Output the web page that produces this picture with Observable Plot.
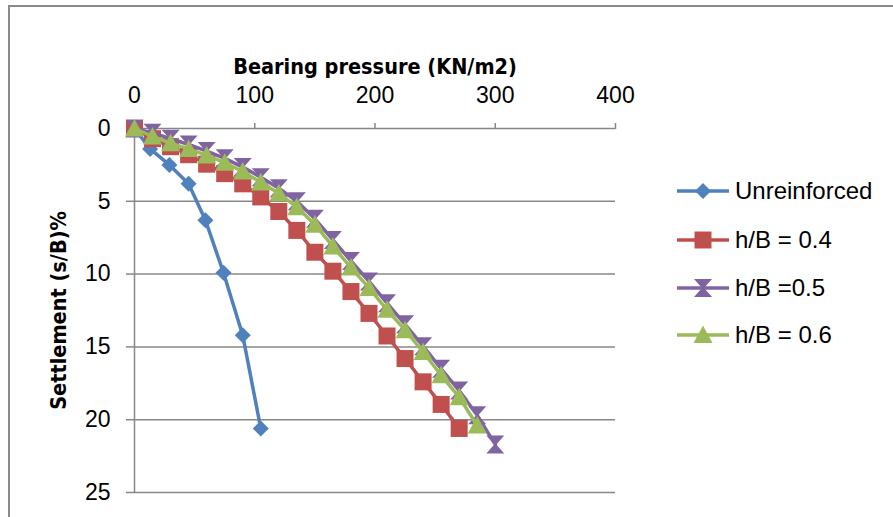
<!DOCTYPE html>
<html><head><meta charset="utf-8">
<script src="https://cdn.jsdelivr.net/npm/d3@7"></script>
<script src="https://cdn.jsdelivr.net/npm/@observablehq/plot@0.6"></script>
<style>
body{margin:0;background:#fff;}
#wrap{position:relative;width:893px;height:517px;overflow:hidden;font-family:"Liberation Sans",Arial,sans-serif;}
#frame{position:absolute;left:8px;top:5px;width:1000px;height:1000px;border-left:2px solid #8a8a8a;border-top:2px solid #8a8a8a;}
#chart{position:absolute;left:0;top:0;}
#legend{position:absolute;left:677px;top:0;}
.item{position:absolute;left:0;height:30px;display:flex;align-items:center;white-space:nowrap;font-size:24px;color:#000;}
.item svg{margin-right:6px;}
</style></head>
<body><div id="wrap"><div id="frame"></div><div id="chart"></div><div id="legend"></div></div>
<script>
// ---- data ----
const xTitle = "Bearing pressure (KN/m2)";
const yTitle = "Settlement (s/B)%";
const xTicks = [0, 100, 200, 300, 400];
const yTicks = [0, 5, 10, 15, 20, 25];
const seriesNames = ["Unreinforced", "h/B = 0.4", "h/B =0.5", "h/B = 0.6"];
const seriesColors = ["#4F81BD", "#C0504D", "#8064A2", "#9BBB59"];

const unreinforcedX = [0, 13, 29, 45, 59, 74, 90, 105];
const unreinforcedY = [0, 1.4, 2.5, 3.8, 6.3, 9.9, 14.2, 20.6];

const hB04X = [0, 15, 30, 45, 60, 75, 90, 105, 120, 135, 150, 165, 180, 195, 210, 225, 240, 255, 270];
const hB04Y = [0, 0.7, 1.25, 1.8, 2.45, 3.1, 3.8, 4.7, 5.7, 7.0, 8.5, 9.8, 11.2, 12.7, 14.25, 15.8, 17.4, 18.95, 20.6];

const hB05X = [0, 15, 30, 45, 60, 75, 90, 105, 120, 135, 150, 165, 180, 195, 210, 225, 240, 255, 270, 285, 300];
const hB05Y = [0, 0.3, 0.7, 1.1, 1.55, 2.05, 2.65, 3.35, 4.1, 5.0, 6.2, 7.65, 9.1, 10.5, 12.0, 13.45, 14.95, 16.5, 18.0, 19.7, 21.7];

const hB06X = [0, 15, 30, 45, 60, 75, 90, 105, 120, 135, 150, 165, 180, 195, 210, 225, 240, 255, 270, 285];
const hB06Y = [0, 0.55, 1.0, 1.4, 1.85, 2.35, 2.95, 3.7, 4.45, 5.4, 6.6, 8.1, 9.55, 10.95, 12.45, 13.85, 15.35, 16.95, 18.45, 20.4];

// ---- marker symbols ----
const rad = (size) => Math.sqrt(size / Math.PI);
const diamond = {draw(c, s){const r = rad(s); c.moveTo(0,-r); c.lineTo(r,0); c.lineTo(0,r); c.lineTo(-r,0); c.closePath();}};
const square = {draw(c, s){const r = rad(s); c.rect(-r,-r,2*r,2*r);}};
const hourglass = {draw(c, s){const r = rad(s), w = r*0.12; c.moveTo(-r,-r); c.lineTo(r,-r); c.lineTo(w,0); c.lineTo(r,r); c.lineTo(-r,r); c.lineTo(-w,0); c.closePath();}};
const triangle = {draw(c, s){const r = rad(s); c.moveTo(0,-r); c.lineTo(r,r*0.85); c.lineTo(-r,r*0.85); c.closePath();}};
const symbols = [diamond, square, hourglass, triangle];
const radii = [8, 8.5, 9, 9.5];

const seriesX = [unreinforcedX, hB04X, hB05X, hB06X];
const seriesY = [unreinforcedY, hB04Y, hB05Y, hB06Y];
const tables = seriesX.map((xs, k) => xs.map((x, i) => ({x, y: seriesY[k][i]})));

const grey = "#878787";
const titleFont = "'DejaVu Sans Condensed','DejaVu Sans',sans-serif";
const marks = [
  Plot.gridY(yTicks.slice(1), {stroke: grey, strokeOpacity: 1, strokeWidth: 1.5}),
  Plot.ruleY([0], {stroke: grey, strokeWidth: 1.5}),
  Plot.ruleX([0], {y1: 0, y2: 25, stroke: grey, strokeWidth: 1.5}),
  Plot.axisX(xTicks, {anchor: "top", tickSize: 6, tickPadding: 20, stroke: grey, strokeWidth: 1.5, fill: "#000", label: null, fontSize: 23}),
  Plot.axisY(yTicks, {anchor: "left", tickSize: 8, tickPadding: 16, stroke: grey, strokeWidth: 1.5, fill: "#000", label: null, fontSize: 23}),
  Plot.text([xTitle], {frameAnchor: "top", dy: -70, text: d => d, textAnchor: "middle", fontWeight: "bold", fontSize: 21.5, fontFamily: titleFont, fill: "#000"}),
  Plot.text([yTitle], {frameAnchor: "left", dx: -75, rotate: -90, textAnchor: "middle", text: d => d, fontWeight: "bold", fontSize: 21.5, fontFamily: titleFont, fill: "#000"})
];
tables.forEach((t, k) => {
  marks.push(Plot.line(t, {x: "x", y: "y", stroke: seriesColors[k], strokeWidth: 3.5}));
  marks.push(Plot.dot(t, {x: "x", y: "y", symbol: () => symbols[k], r: radii[k], fill: seriesColors[k], stroke: "none"}));
});

const chart = Plot.plot({
  width: 893, height: 517,
  marginLeft: 134, marginRight: 278, marginTop: 128, marginBottom: 25,
  style: {background: "transparent", fontFamily: "'Liberation Sans', Arial, sans-serif", fontSize: "23px", color: "#000", overflow: "visible"},
  x: {domain: [0, 400]},
  y: {domain: [0, 25], reverse: true},
  symbol: {type: "identity"},
  marks
});
document.getElementById("chart").appendChild(chart);

// ---- legend ----
const legendY = [191, 240, 288, 335];
const legend = document.getElementById("legend");
seriesNames.forEach((name, k) => {
  const p = d3.path();
  symbols[k].draw(p, Math.PI * radii[k] * radii[k]);
  const div = document.createElement("div");
  div.className = "item";
  div.style.top = (legendY[k] - 15) + "px";
  div.innerHTML = `<svg width="52" height="30" viewBox="0 -15 52 30"><line x1="0" x2="52" y1="0" y2="0" stroke="${seriesColors[k]}" stroke-width="3.5"/><path transform="translate(26,0)" d="${p.toString()}" fill="${seriesColors[k]}"/></svg><span>${name}</span>`;
  legend.appendChild(div);
});
</script>
</body></html>
